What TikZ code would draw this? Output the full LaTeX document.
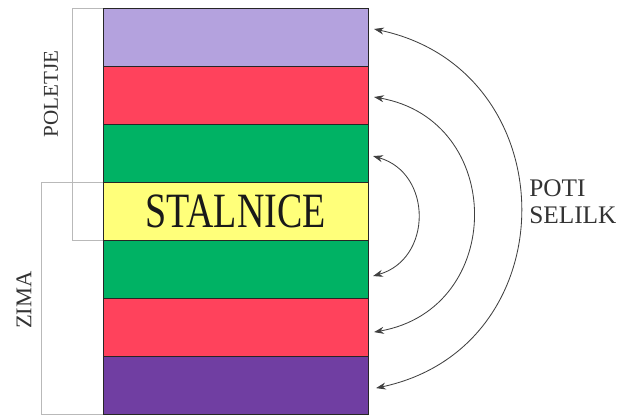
\documentclass[tikz,border=0pt]{standalone}
\usepackage{fontspec}
\setmainfont{Liberation Serif}
\usepackage{tikz}
\usetikzlibrary{positioning,arrows.meta}
\definecolor{softlilac}{RGB}{180,162,222}
\definecolor{softred}{RGB}{255,66,92}
\definecolor{softgreen}{RGB}{0,178,100}
\definecolor{softyellow}{RGB}{255,255,122}
\definecolor{softpurple}{RGB}{112,62,162}

\begin{document}
\begin{tikzpicture}[
    x=0.025cm, y=0.025cm,
    >={Stealth[length=7pt,width=5pt]},
    band/.style={
        draw=black!85,
        line width=0.6pt,
        minimum width=6.625cm,
        minimum height=1.45cm,
        inner sep=0pt,
        outer sep=0pt
    },
    bracket/.style={draw=gray!55, line width=0.5pt},
    season/.style={rotate=90, font=\fontsize{15}{17}\selectfont, text=black!80},
    route/.style={<->, draw=black!75, line width=0.6pt}
]
\useasboundingbox (0,0) rectangle (629,417);

% BANDS
\node[band, fill=softlilac] (b1) at (235.5,380) {};
\node[band, fill=softred, below=0pt of b1] (b2) {};
\node[band, fill=softgreen, below=0pt of b2] (b3) {};
\node[band, fill=softyellow, below=0pt of b3, font=\fontsize{27}{30}\selectfont,
    text=black!90] (b4) {\scalebox{1}[1.3]{STALNICE}};
\node[band, fill=softgreen, below=0pt of b4] (b5) {};
\node[band, fill=softred, below=0pt of b5] (b6) {};
\node[band, fill=softpurple, below=0pt of b6] (b7) {};

% SEASONS
\draw[bracket] (b1.north west) -- ++(-31,0) |- (b4.south west);
\draw[bracket] (b4.north west) -- ++(-62,0) |- (b7.south west);

\node[season] (summer) at (51,323) {POLETJE};
\node[season, font=\fontsize{16}{18}\selectfont] (winter) at (24,117) {ZIMA};

% ROUTES
\draw[route] ([shift={(5,-3)}]b3.east)
    .. controls +(-16:62) and +(16:62) .. ([shift={(5,-7)}]b5.east);
\draw[route] ([shift={(6,-2)}]b2.east)
    .. controls +(-10:134) and +(10:134) .. ([shift={(6,-5)}]b6.east);
\draw[route] ([shift={(6,8)}]b1.east)
    .. controls +(-12:198) and +(12:198) .. ([shift={(8,-3)}]b7.east);

\node[align=left, anchor=west, inner sep=0pt, font=\fontsize{18}{19.5}\selectfont,
    text=black!80] (routes) at (529,215.5) {POTI\\SELILK};

\end{tikzpicture}
\end{document}
